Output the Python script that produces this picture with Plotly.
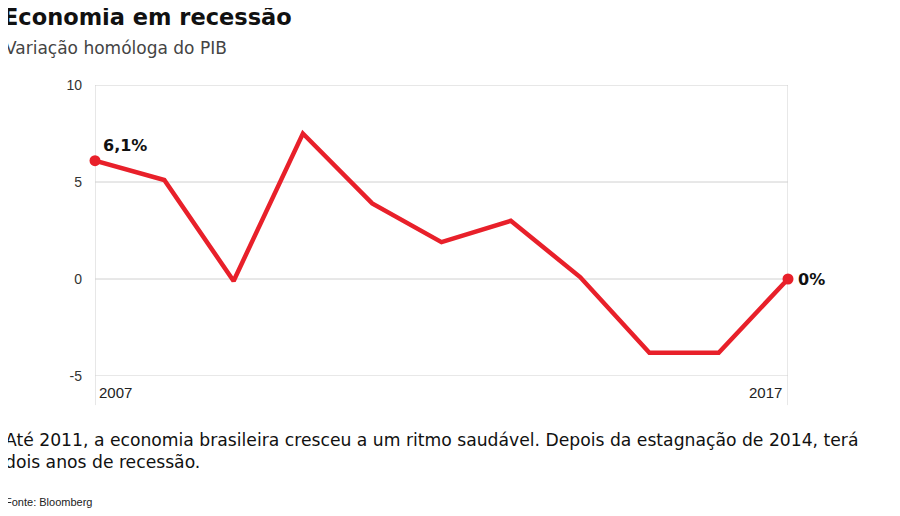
import plotly.graph_objects as go

years = list(range(2007, 2018))
gdp = [6.1, 5.1, -0.1, 7.5, 3.9, 1.9, 3.0, 0.1, -3.8, -3.8, 0.0]
yticks = [10, 5, 0, -5]
yticklabels = ["10", "5", "0", "-5"]

red = "#e8202a"
fig = go.Figure()
fig.add_trace(go.Scatter(x=years, y=gdp, mode="lines", line=dict(color=red, width=4.5),
                         hoverinfo="skip", cliponaxis=False))
fig.add_trace(go.Scatter(x=[years[0], years[-1]], y=[gdp[0], gdp[-1]], mode="markers",
                         marker=dict(color=red, size=11), hoverinfo="skip", cliponaxis=False))

for v in yticks:
    fig.add_shape(type="line", xref="x", yref="y", x0=years[0], x1=years[-1], y0=v, y1=v,
                  line=dict(color="#d0d0d0", width=1), layer="below")
for xv in [years[0], years[-1]]:
    fig.add_shape(type="line", xref="x", yref="paper", x0=xv, x1=xv, y0=-0.1, y1=1,
                  line=dict(color="#d0d0d0", width=1), layer="below")
    fig.add_annotation(x=xv, y=-5, xref="x", yref="y", text=str(xv), showarrow=False,
                       xanchor="left" if xv == years[0] else "right", yanchor="top",
                       xshift=2 if xv == years[0] else -4, yshift=-6,
                       font=dict(size=15, color="#222", family="Liberation Sans"))

fig.add_annotation(x=years[0], y=gdp[0], text="<b>6,1%</b>", showarrow=False, xanchor="left",
                   yanchor="bottom", xshift=6, yshift=4, font=dict(size=16, color="#111", family="DejaVu Sans"))
fig.add_annotation(x=years[-1], y=gdp[-1], text="<b>0%</b>", showarrow=False, xanchor="left",
                   xshift=8, font=dict(size=16, color="#111", family="DejaVu Sans"))

OFF = 8
L, T, R, B = 95 - OFF, 85 - OFF, 900 - 788 + OFF, 516 - 376 + OFF
W = 900 - L - R
H = 516 - T - B

def px(xp): return (xp - OFF - L) / W
def py(yp): return (516 - B - (yp - OFF)) / H

def ptext(text, x, y, size, color="#111", bold=False, family="Liberation Sans"):
    fig.add_annotation(xref="paper", yref="paper", x=x, y=y, text=(f"<b>{text}</b>" if bold else text),
                       showarrow=False, xanchor="left", yanchor="top", align="left",
                       font=dict(size=size, color=color, family=family))

ptext("Economia em recessão", px(1), py(2), 22.5, bold=True, family="DejaVu Sans")
ptext("Variação homóloga do PIB", px(3), py(36), 17, color="#444", family="DejaVu Sans")
ptext("Até 2011, a economia brasileira cresceu a um ritmo saudável. Depois da estagnação de 2014, terá<br>dois anos de recessão.",
      px(3), py(428), 17.2, color="#111", family="DejaVu Sans")
ptext("Fonte: Bloomberg", px(3), py(494), 11, color="#222")

fig.update_layout(
    width=900, height=516, margin=dict(l=L, r=R, t=T, b=B),
    paper_bgcolor="white", plot_bgcolor="white", showlegend=False,
    xaxis=dict(range=[years[0], years[-1]], showgrid=False, zeroline=False, showticklabels=False),
    yaxis=dict(range=[-5, 10], tickvals=yticks, ticktext=yticklabels, showgrid=False, zeroline=False, ticks="",
               ticklabelstandoff=12, tickfont=dict(size=14, color="#333", family="Liberation Sans")),
)
fig.write_html("out.html")
